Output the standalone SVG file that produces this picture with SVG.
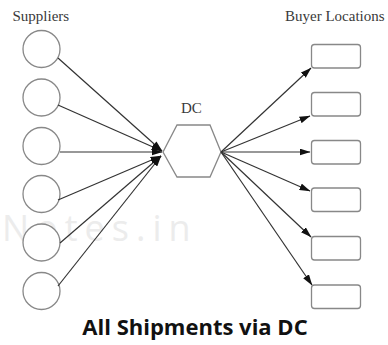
<svg xmlns="http://www.w3.org/2000/svg" width="388" height="345" viewBox="0 0 388 345">
  <defs>
    <marker id="arr" markerUnits="userSpaceOnUse" markerWidth="11" markerHeight="7" refX="10.5" refY="3.5" orient="auto">
      <path d="M0,0 L11,3.5 L0,7 Z" fill="#111"/>
    </marker>
    <style>
      .lbl { font-family: "Liberation Serif", "Times New Roman", serif; font-size: 15px; fill: #3a3a3a; }
      .sup { fill: #fff; stroke: #888; stroke-width: 1.3; }
      .box { fill: #fff; stroke: #888; stroke-width: 1.3; }
      .hex { fill: #fff; stroke: #888; stroke-width: 1.3; }
      .edge { fill: none; stroke: #333; stroke-width: 1.2; marker-end: url(#arr); }
      .title { font-family: "Open Sans", "Liberation Sans", sans-serif; font-weight: bold; font-size: 22px; fill: #111; }
      .wm { font-family: "Open Sans", "Liberation Sans", sans-serif; font-size: 36px; fill: #ececec; letter-spacing: 7px; }
    </style>
  </defs>
  <rect width="388" height="345" fill="#fff"/>
  <text class="wm" x="2" y="241">Notes.in</text>
  <text class="lbl" x="12.5" y="20.5">Suppliers</text>
  <text class="lbl" x="285" y="20.5">Buyer Locations</text>
  <g id="suppliers">
    <g id="s1"><circle class="sup" cx="41.5" cy="49" r="18.5"/></g>
    <g id="s2"><circle class="sup" cx="41.5" cy="97.5" r="18.5"/></g>
    <g id="s3"><circle class="sup" cx="41.5" cy="146" r="18.5"/></g>
    <g id="s4"><circle class="sup" cx="41.5" cy="194" r="18.5"/></g>
    <g id="s5"><circle class="sup" cx="41.5" cy="242.5" r="18.5"/></g>
    <g id="s6"><circle class="sup" cx="41.5" cy="291" r="18.5"/></g>
  </g>
  <g id="dc">
    <polygon class="hex" points="163,152 177,125 210,125 221,152 210,177 177,177"/>
    <text class="lbl" x="181" y="113" font-size="14">DC</text>
  </g>
  <g id="buyers">
    <g id="b1"><rect class="box" x="311.5" y="44.5" width="49" height="23.5" rx="3"/></g>
    <g id="b2"><rect class="box" x="311.5" y="92.5" width="49" height="23.5" rx="3"/></g>
    <g id="b3"><rect class="box" x="311.5" y="140.5" width="49" height="23.5" rx="3"/></g>
    <g id="b4"><rect class="box" x="311.5" y="188" width="49" height="23.5" rx="3"/></g>
    <g id="b5"><rect class="box" x="311.5" y="236.5" width="49" height="23.5" rx="3"/></g>
    <g id="b6"><rect class="box" x="311.5" y="285" width="49" height="23.5" rx="3"/></g>
  </g>
  <g id="connectors">
    <line class="edge" x1="58" y1="58" x2="162" y2="151"/>
    <line class="edge" x1="58" y1="105" x2="162" y2="151"/>
    <line class="edge" x1="60" y1="152" x2="162" y2="152"/>
    <line class="edge" x1="58" y1="200" x2="161" y2="156"/>
    <line class="edge" x1="60" y1="243" x2="161" y2="156"/>
    <line class="edge" x1="58" y1="286" x2="161" y2="156"/>
    <line class="edge" x1="221" y1="152" x2="311" y2="68"/>
    <line class="edge" x1="221" y1="152" x2="310" y2="116"/>
    <line class="edge" x1="221" y1="152" x2="310" y2="152"/>
    <line class="edge" x1="221" y1="152" x2="310" y2="191"/>
    <line class="edge" x1="221" y1="152" x2="311" y2="237"/>
    <line class="edge" x1="221" y1="152" x2="312" y2="285"/>
  </g>
  <text class="title" x="195" y="335" text-anchor="middle">All Shipments via DC</text>
</svg>
